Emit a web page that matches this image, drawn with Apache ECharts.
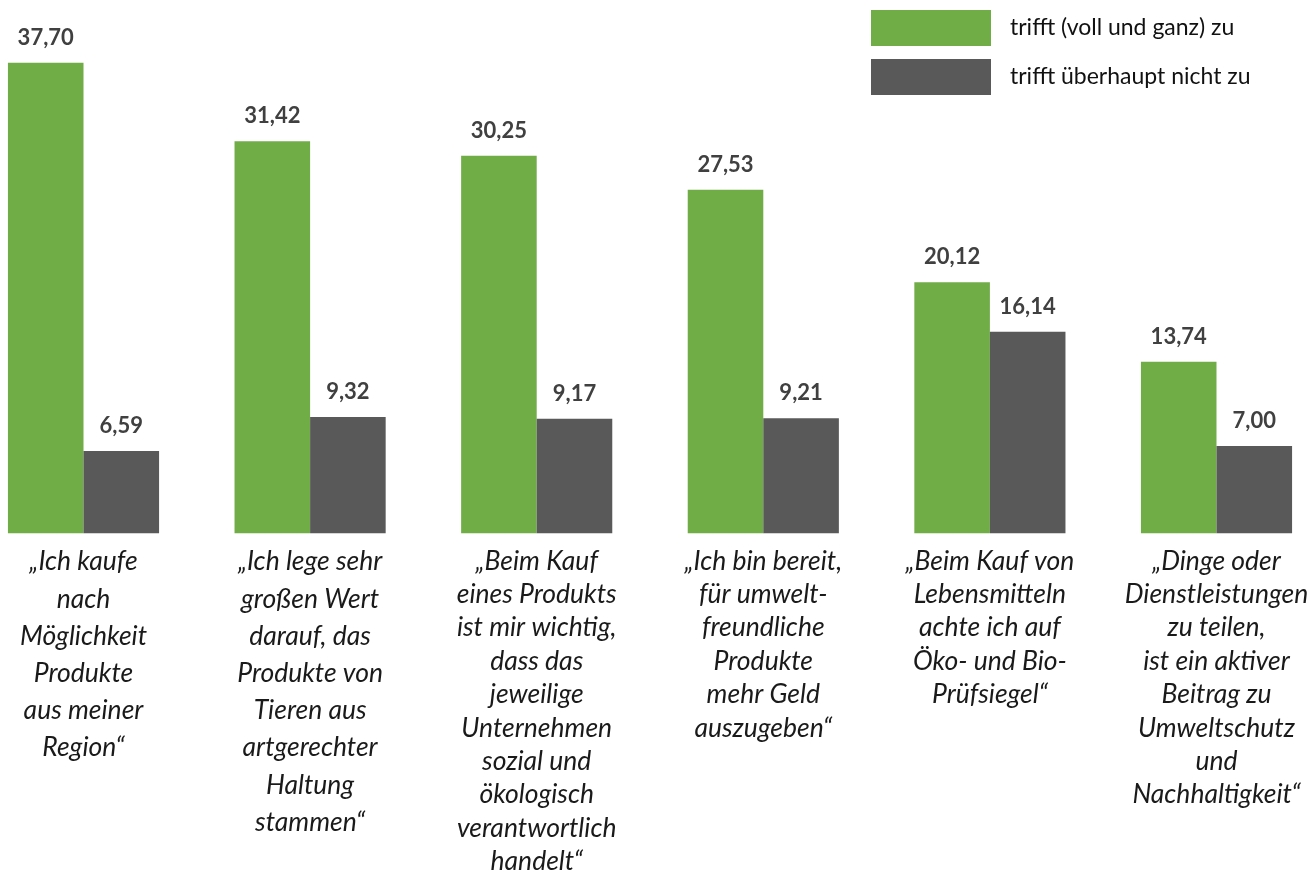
<!DOCTYPE html>
<html>
<head>
<meta charset="utf-8">
<script src="https://cdn.jsdelivr.net/npm/echarts@6/dist/echarts.min.js"></script>
<style>html,body{margin:0;padding:0;background:#fff}#c{width:1311px;height:875px}</style>
</head>
<body>
<div id="c"></div>
<script>
const categories = [
  "„Ich kaufe\nnach\nMöglichkeit\nProdukte\naus meiner\nRegion“",
  "„Ich lege sehr\ngroßen Wert\ndarauf, das\nProdukte von\nTieren aus\nartgerechter\nHaltung\nstammen“",
  "„Beim Kauf\neines Produkts\nist mir wichtig,\ndass das\njeweilige\nUnternehmen\nsozial und\nökologisch\nverantwortlich\nhandelt“",
  "„Ich bin bereit,\nfür umwelt-\nfreundliche\nProdukte\nmehr Geld\nauszugeben“",
  "„Beim Kauf von\nLebensmitteln\nachte ich auf\nÖko- und Bio-\nPrüfsiegel“",
  "„Dinge oder\nDienstleistungen\nzu teilen,\nist ein aktiver\nBeitrag zu\nUmweltschutz\nund\nNachhaltigkeit“"
];
const seriesNames = ["trifft (voll und ganz) zu", "trifft überhaupt nicht zu"];
const agreeValues = [37.70, 31.42, 30.25, 27.53, 20.12, 13.74];
const disagreeValues = [6.59, 9.32, 9.17, 9.21, 16.14, 7.00];

const chart = echarts.init(document.getElementById('c'));
const fmt = p => p.value.toFixed(2).replace('.', ',');
const labelStyle = {
  show: true, position: 'top', distance: 14,
  formatter: fmt, color: '#404040', fontFamily: 'Lato', fontWeight: 'bold', fontSize: 22
};
const catFont = { fontFamily: 'Lato', fontStyle: 'italic', fontSize: 26.5, color: '#1a1a1a' };
chart.setOption({
  animation: false,
  backgroundColor: '#fff',
  legend: {
    orient: 'vertical', left: 871, top: 10, padding: 0,
    itemWidth: 120, itemHeight: 36, itemGap: 13,
    icon: 'rect',
    textStyle: { fontFamily: 'Lato', fontSize: 23, color: '#111', padding: [0, 0, 0, 14] },
    data: seriesNames
  },
  grid: { left: -29.8, width: 1359.6, top: 34.1, bottom: 341.7, containLabel: false, outerBoundsMode: 'none' },
  xAxis: {
    type: 'category', data: categories,
    axisLine: { show: false }, axisTick: { show: false },
    axisLabel: {
      interval: 0, margin: 10,
      ...catFont,
      formatter: (value, idx) => {
        const k = idx < 2 ? 'a' : 'b';
        return value.split('\n').map(l => '{' + k + '|' + l + '}').join('\n');
      },
      rich: {
        a: { ...catFont, lineHeight: 37.2 },
        b: { ...catFont, lineHeight: 33.4, padding: [2, 0, 0, 0] }
      }
    }
  },
  yAxis: {
    type: 'value', min: 0, max: 40, show: false, splitLine: { show: false }
  },
  series: [
    { name: seriesNames[0], type: 'bar', data: agreeValues, barGap: '0%', barCategoryGap: '33.3%',
      itemStyle: { color: '#70AD47' }, label: labelStyle },
    { name: seriesNames[1], type: 'bar', data: disagreeValues, barGap: '0%', barCategoryGap: '33.3%',
      itemStyle: { color: '#595959' }, label: labelStyle }
  ]
});
</script>
</body>
</html>
